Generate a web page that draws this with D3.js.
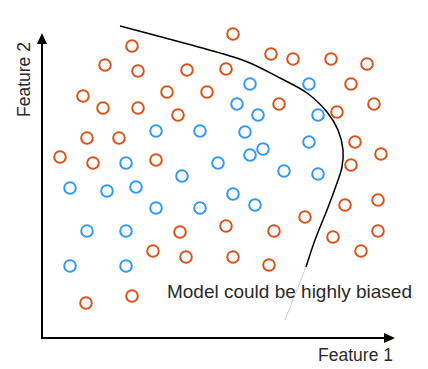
<!DOCTYPE html>
<html>
<head>
<meta charset="utf-8">
<script src="https://cdn.jsdelivr.net/npm/d3@7"></script>
<style>
  html, body { margin: 0; padding: 0; background: #fff; }
  svg { display: block; }
  text { font-family: "Liberation Sans", "Helvetica Neue", Helvetica, Arial, sans-serif; fill: #2a2a2a; }
</style>
</head>
<body>
<svg id="chart" width="428" height="369"></svg>
<script>
// Data (feature units: x = Feature 1, y = Feature 2)
const orangeX = [191, 90, 63, 96, 145, 184, 229, 251, 289, 325, 41, 125, 165, 309, 61, 96, 136, 237, 332, 295, 45, 77, 313, 18, 51, 114, 339, 309, 263, 303, 336, 184, 232, 138, 291, 336, 111, 144, 191, 319, 227, 44, 90];
const orangeY = [304, 292, 273, 267, 268, 269, 284, 279, 279, 274, 242, 246, 246, 254, 230, 230, 223, 234, 234, 226, 200, 200, 196, 181, 175, 178, 184, 173, 121, 133, 138, 112, 107, 106, 101, 107, 87, 81, 81, 87, 73, 35, 42];
const blueX = [208, 267, 195, 216, 276, 114, 158, 203, 267, 221, 208, 84, 176, 140, 242, 276, 28, 65, 94, 191, 114, 158, 213, 45, 84, 28, 84];
const blueY = [254, 254, 234, 223, 223, 207, 207, 206, 196, 189, 183, 175, 175, 162, 167, 164, 150, 147, 151, 144, 130, 130, 133, 107, 107, 72, 72];
// Decision boundary of the (biased) model
const boundaryX = [78, 188, 208, 238, 265, 285, 296, 301, 300, 295, 285, 273, 264];
const boundaryY = [312, 282, 275, 260, 245, 226, 208, 188, 171, 155, 128, 98, 71];
const extensionX = [264, 243];
const extensionY = [71, 18];
const xLabel = "Feature 1";
const yLabel = "Feature 2";
const note = "Model could be highly biased";

const svg = d3.select("#chart");
const x = d3.scaleLinear().domain([0, 353]).range([42, 395]);
const y = d3.scaleLinear().domain([0, 305]).range([338, 33]);

// Axes with arrow heads
const axisG = svg.append("g");
axisG.append("line")
  .attr("x1", x(0)).attr("y1", y(0)).attr("x2", x(0)).attr("y2", y(305) + 9)
  .attr("stroke", "#000").attr("stroke-width", 2);
axisG.append("line")
  .attr("x1", x(0) - 1).attr("y1", y(0)).attr("x2", x(353) - 9).attr("y2", y(0))
  .attr("stroke", "#000").attr("stroke-width", 2);
axisG.append("path")
  .attr("d", `M${x(0)},${y(305)} L${x(0) - 5},${y(305) + 11} L${x(0) + 5},${y(305) + 11} Z`)
  .attr("fill", "#000");
axisG.append("path")
  .attr("d", `M${x(353)},${y(0)} L${x(353) - 11},${y(0) - 5} L${x(353) - 11},${y(0) + 5} Z`)
  .attr("fill", "#000");

// Points
const orange = orangeX.map((v, i) => ({ x: v, y: orangeY[i] }));
const blue = blueX.map((v, i) => ({ x: v, y: blueY[i] }));
svg.append("g").selectAll("circle").data(orange).join("circle")
  .attr("cx", d => x(d.x)).attr("cy", d => y(d.y)).attr("r", 5.8)
  .attr("fill", "none").attr("stroke", "#d9541a").attr("stroke-width", 2);
svg.append("g").selectAll("circle").data(blue).join("circle")
  .attr("cx", d => x(d.x)).attr("cy", d => y(d.y)).attr("r", 5.8)
  .attr("fill", "none").attr("stroke", "#3399f5").attr("stroke-width", 2);

// Boundary curve
const line = d3.line().x(d => x(d[0])).y(d => y(d[1])).curve(d3.curveCatmullRom.alpha(0.5));
svg.append("path")
  .datum(boundaryX.map((v, i) => [v, boundaryY[i]]))
  .attr("d", line).attr("fill", "none").attr("stroke", "#000").attr("stroke-width", 1.5);
svg.append("path")
  .datum(extensionX.map((v, i) => [v, extensionY[i]]))
  .attr("d", d3.line().x(d => x(d[0])).y(d => y(d[1])))
  .attr("fill", "none").attr("stroke", "#d0d0d0").attr("stroke-width", 1);

// Texts
svg.append("text").attr("x", 412).attr("y", 298).attr("text-anchor", "end")
  .style("font-size", "19px").text(note);
svg.append("text").attr("x", 393).attr("y", 361).attr("text-anchor", "end")
  .style("font-size", "17.5px").text(xLabel);
svg.append("text").attr("transform", "translate(30,117) rotate(-90)")
  .style("font-size", "17.5px").text(yLabel);
</script>
</body>
</html>
